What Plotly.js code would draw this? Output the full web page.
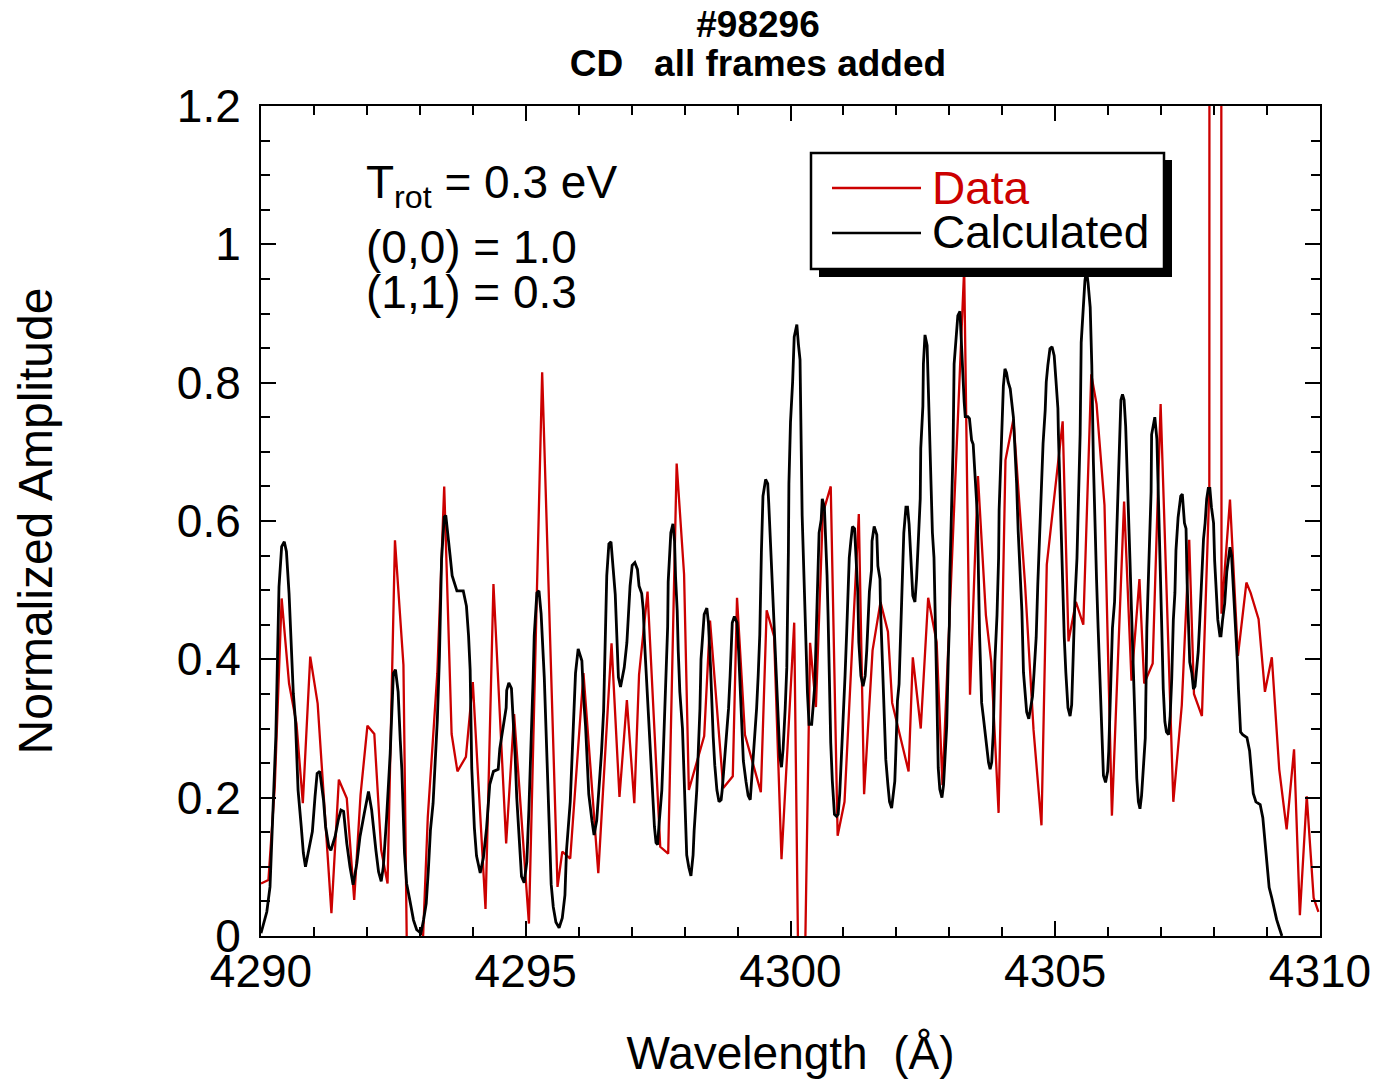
<!DOCTYPE html>
<html>
<head>
<meta charset="utf-8">
<script src="https://cdn.plot.ly/plotly-3.0.1.min.js"></script>
<style>html,body{margin:0;padding:0;background:#fff;}</style>
</head>
<body>
<div id="chart" style="width:1376px;height:1081px;"></div>
<script>
// ---------- DATA ----------
const titleLines = ['#98296', 'CD\u00a0\u00a0\u00a0all frames added'];
const xAxisTitle = 'Wavelength\u00a0\u00a0(\u00c5)';
const yAxisTitle = 'Normalized Amplitude';
const seriesNames = ['Data', 'Calculated'];
const fitLabels = ['T<sub>rot</sub> = 0.3 eV', '(0,0) = 1.0', '(1,1) = 0.3'];
const xTickValues = [4290, 4295, 4300, 4305, 4310];
const xTickLabels = ['4290', '4295', '4300', '4305', '4310'];
const yTickValues = [0, 0.2, 0.4, 0.6, 0.8, 1.0, 1.2];
const yTickLabels = ['0', '0.2', '0.4', '0.6', '0.8', '1', '1.2'];

// Measured spectrum (Data)
const dataWavelength = [
 4290.00,4290.14,4290.26,4290.39,4290.53,4290.67,4290.79,4290.93,4291.07,4291.33,
 4291.47,4291.62,4291.76,4291.88,4292.01,4292.14,4292.27,4292.39,4292.53,4292.69,
 4292.83,4293.00,4293.15,4293.33,4293.46,4293.60,4293.71,4293.87,4294.00,4294.24,
 4294.39,4294.63,4294.78,4295.06,4295.31,4295.60,4295.69,4295.84,4296.09,4296.37,
 4296.62,4296.77,4296.91,4297.05,4297.14,4297.30,4297.54,4297.69,4297.85,4297.99,
 4298.08,4298.37,4298.48,4298.73,4298.91,4298.99,4299.14,4299.44,4299.55,4299.69,
 4299.83,4300.07,4300.20,4300.37,4300.48,4300.61,4300.76,4300.89,4301.02,4301.29,
 4301.39,4301.55,4301.70,4301.84,4301.92,4302.23,4302.31,4302.46,4302.60,4302.76,
 4302.87,4303.28,4303.39,4303.54,4303.69,4303.79,4303.93,4304.06,4304.21,4304.43,
 4304.59,4304.74,4304.84,4305.14,4305.25,4305.39,4305.53,4305.68,4305.78,4305.93,
 4306.07,4306.30,4306.44,4306.59,4306.68,4306.84,4306.99,4307.23,4307.39,4307.53,
 4307.62,4307.77,4307.91,4308.00,4308.14,4308.30,4308.45,4308.61,4308.69,4308.84,
 4308.96,4309.09,4309.23,4309.37,4309.51,4309.62,4309.75,4309.88,4309.97
];
const dataAmplitude = [
 0.076,0.081,0.216,0.488,0.365,0.307,0.192,0.404,0.336,0.033,
 0.226,0.199,0.052,0.204,0.304,0.292,0.124,0.076,0.572,0.392,
 -0.5,-0.12,0.172,0.38,0.65,0.292,0.238,0.259,0.367,0.039,
 0.509,0.134,0.321,0.018,0.815,0.071,0.122,0.112,0.380,0.091,
 0.423,0.201,0.341,0.192,0.378,0.498,0.129,0.119,0.683,0.523,
 0.211,0.289,0.456,0.214,0.231,0.489,0.291,0.208,0.471,0.433,
 0.111,0.453,-0.39,0.424,0.331,0.611,0.650,0.145,0.194,0.610,
 0.205,0.413,0.483,0.440,0.337,0.238,0.403,0.300,0.489,0.425,
 0.218,0.965,0.349,0.665,0.464,0.397,0.178,0.688,0.747,0.508,
 0.298,0.160,0.537,0.744,0.426,0.483,0.450,0.812,0.769,0.623,
 0.174,0.628,0.369,0.516,0.365,0.394,0.769,0.194,0.334,0.573,
 0.350,0.318,0.647,30,0.466,0.631,0.405,0.511,0.496,0.458,
 0.353,0.403,0.241,0.154,0.270,0.030,0.202,0.055,0.035
];

// Calculated spectrum
const calcWavelength = [
 4290.00,4290.11,4290.17,4290.20,4290.25,4290.28,4290.34,4290.39,4290.44,4290.48,
 4290.53,4290.58,4290.61,4290.65,4290.67,4290.70,4290.76,4290.80,4290.84,4290.89,
 4290.97,4291.02,4291.06,4291.11,4291.18,4291.22,4291.28,4291.32,4291.40,4291.46,
 4291.51,4291.56,4291.62,4291.68,4291.74,4291.81,4291.87,4291.95,4292.03,4292.09,
 4292.14,4292.17,4292.22,4292.27,4292.31,4292.37,4292.44,4292.47,4292.50,4292.54,
 4292.59,4292.63,4292.66,4292.71,4292.75,4292.81,4292.88,4292.94,4293.02,4293.07,
 4293.12,4293.16,4293.20,4293.25,4293.29,4293.33,4293.37,4293.41,4293.46,
 4293.49,4293.57,4293.61,4293.70,4293.82,4293.88,4293.92,4293.95,4293.98,4294.03,
 4294.07,4294.14,4294.20,4294.26,4294.32,4294.39,4294.48,4294.51,4294.58,4294.63,
 4294.64,4294.68,4294.73,4294.76,4294.80,4294.83,4294.87,4294.92,4294.97,4295.02,
 4295.06,4295.10,4295.14,4295.16,4295.21,4295.25,4295.29,4295.35,4295.40,4295.44,
 4295.48,4295.52,4295.57,4295.63,4295.69,4295.74,4295.77,4295.84,4295.88,4295.92,
 4295.94,4295.99,4296.06,4296.09,4296.13,4296.17,4296.19,4296.25,4296.29,4296.34,
 4296.38,4296.43,4296.47,4296.50,4296.53,4296.57,4296.61,4296.65,4296.69,4296.72,
 4296.75,4296.79,
 4296.86,4296.91,4296.94,4296.97,4297.01,4297.06,4297.11,4297.14,4297.19,4297.22,
 4297.24,4297.27,4297.30,4297.33,4297.36,4297.40,4297.43,4297.46,4297.49,4297.52,
 4297.57,4297.60,4297.63,4297.66,4297.68,4297.69,4297.72,4297.74,4297.78,4297.81,
 4297.83,4297.86,4297.88,4297.91,4297.96,4297.99,4298.02,4298.04,4298.08,4298.12,
 4298.16,4298.18,4298.23,4298.26,4298.29,4298.31,4298.34,4298.37,4298.42,4298.45,
 4298.49,4298.51,4298.54,4298.57,4298.61,4298.65,4298.69,4298.71,4298.75,4298.80,
 4298.83,4298.86,4298.90,4298.94,4298.99,4299.02,4299.05,4299.08,4299.11,4299.16,
 4299.20,4299.24,4299.28,4299.33,4299.36,4299.39,4299.42,4299.45,4299.48,4299.53,
 4299.57,4299.59,4299.61,4299.64,4299.67,4299.71,4299.74,4299.77,4299.80,4299.83,
 4299.86,4299.90,4299.93,4299.96,4299.97,4300.00,4300.04,4300.07,4300.12,4300.15,
 4300.18,4300.22,4300.25,4300.27,4300.32,4300.35,4300.40,4300.43,4300.46,4300.49,
 4300.51,4300.54,4300.58,4300.60,4300.64,4300.66,4300.69,4300.71,4300.74,4300.76,
 4300.79,4300.83,4300.87,4300.90,4300.93,4300.97,4301.00,4301.03,4301.06,4301.08,
 4301.11,4301.14,4301.17,4301.21,4301.24,4301.27,4301.29,4301.33,4301.37,4301.41,
 4301.44,4301.47,4301.49,4301.53,4301.54,4301.58,4301.63,4301.65,4301.69,4301.70,
 4301.73,4301.75,4301.78,4301.80,4301.84,4301.87,4301.91,4301.94,4301.97,4301.99,
 4302.02,4302.05,4302.08,4302.10,4302.12,4302.14,4302.18,4302.21,4302.24,4302.27,
 4302.31,4302.35,4302.38,4302.41,4302.45,4302.46,4302.50,4302.51,4302.54,4302.58,
 4302.60,4302.63,4302.65,4302.68,4302.71,4302.73,4302.76,4302.79,4302.82,4302.86,
 4302.89,4302.92,4302.95,4302.98,4303.00,4303.01,4303.04,4303.07,4303.09,4303.12,
 4303.16,4303.20,4303.22,4303.24,4303.28,4303.30,4303.35,4303.38,4303.42,4303.45,
 4303.49,4303.53,4303.57,
 4303.61,4303.64,4303.67,4303.71,4303.74,4303.77,4303.80,4303.83,4303.86,4303.90,
 4303.93,4303.94,4303.97,4304.00,4304.02,4304.05,4304.08,4304.11,4304.15,4304.18,
 4304.21,4304.24,4304.27,4304.30,4304.33,4304.37,4304.40,4304.43,4304.46,4304.50,
 4304.54,4304.57,4304.60,4304.64,4304.67,4304.71,4304.74,4304.77,4304.81,4304.83,
 4304.86,4304.90,4304.94,4304.98,4305.01,4305.05,4305.06,4305.09,4305.12,4305.15,
 4305.17,4305.20,4305.24,4305.28,4305.31,4305.34,4305.37,4305.41,4305.44,4305.47,
 4305.49,4305.52,4305.56,4305.59,4305.62,4305.66,4305.69,4305.72,4305.75,4305.78,
 4305.81,4305.85,4305.88,4305.91,4305.95,4305.99,4306.01,4306.05,4306.08,4306.12,
 4306.14,4306.16,4306.19,4306.21,4306.24,4306.27,4306.30,4306.33,4306.35,4306.38,
 4306.41,4306.44,4306.48,4306.51,4306.54,4306.57,4306.60,4306.63,4306.66,4306.70,
 4306.73,4306.76,4306.78,4306.81,4306.82,4306.85,4306.88,4306.92,4306.95,4306.98,
 4307.01,4307.04,4307.07,4307.10,4307.14,4307.17,4307.20,4307.23,4307.26,4307.28,
 4307.32,4307.37,4307.40,4307.44,4307.47,4307.49,4307.51,4307.54,4307.58,4307.61,
 4307.64,4307.67,4307.70,4307.73,4307.77,4307.80,4307.83,4307.86,4307.89,4307.92,
 4307.95,4307.99,4308.01,4308.04,4308.07,4308.11,4308.13,4308.16,4308.20,4308.24,
 4308.27,4308.30,4308.33,4308.36,4308.39,4308.41,4308.44,4308.46,4308.48,4308.50,
 4308.54,4308.62,4308.67,4308.69,4308.71,4308.74,4308.79,4308.87,4308.92,4308.96,
 4308.99,4309.02,4309.04,4309.09,4309.13,4309.18,4309.23,4309.28
];
const calcAmplitude = [
 0.004,0.035,0.071,0.134,0.226,0.288,0.505,0.563,0.570,0.556,
 0.495,0.413,0.351,0.312,0.264,0.211,0.158,0.120,0.100,0.120,
 0.151,0.201,0.235,0.238,0.197,0.158,0.129,0.124,0.144,0.168,
 0.182,0.180,0.134,0.100,0.074,0.105,0.144,0.177,0.209,0.182,
 0.139,0.124,0.093,0.079,0.100,0.168,0.264,0.327,0.380,0.385,
 0.353,0.283,0.240,0.120,0.076,0.052,0.023,0.009,0.004,0.023,
 0.047,0.095,0.153,0.192,0.254,0.312,0.404,0.544,0.606,
 0.608,0.551,0.521,0.499,0.499,0.477,0.434,0.385,0.243,0.156,
 0.116,0.091,0.113,0.156,0.219,0.238,0.241,0.271,0.303,0.330,
 0.355,0.366,0.358,0.317,0.260,0.200,0.140,0.086,0.077,0.107,
 0.184,0.265,0.374,0.434,0.496,0.499,0.466,0.374,0.249,0.140,
 0.075,0.042,0.020,0.012,0.026,0.059,0.124,0.194,0.260,0.330,
 0.380,0.415,0.398,0.347,0.303,0.238,0.205,0.167,0.146,0.167,
 0.205,0.265,0.325,0.417,0.521,0.567,0.570,0.532,0.494,0.434,
 0.374,0.360,
 0.388,0.424,0.471,0.506,0.536,0.540,0.530,0.506,0.495,0.471,
 0.430,0.388,0.341,0.300,0.253,0.211,0.158,0.135,0.132,0.164,
 0.211,0.270,0.329,0.388,0.447,0.512,0.554,0.583,0.596,0.571,
 0.518,0.471,0.412,0.353,0.300,0.229,0.152,0.117,0.099,0.087,
 0.117,0.152,0.211,0.270,0.329,0.400,0.430,0.465,0.474,0.453,
 0.388,0.335,0.288,0.247,0.211,0.194,0.197,0.211,0.247,0.294,
 0.329,0.377,0.453,0.462,0.453,0.412,0.353,0.294,0.253,0.223,
 0.203,0.197,0.241,0.294,0.329,0.377,0.436,0.554,0.636,0.660,
 0.654,0.624,0.589,0.536,0.477,0.412,0.353,0.300,0.259,0.244,
 0.270,0.329,0.388,0.554,0.654,0.743,0.801,0.866,0.884,0.855,
 0.833,0.608,0.529,0.462,0.352,0.306,0.306,0.334,0.364,0.449,
 0.510,0.583,0.602,0.632,0.620,0.583,0.522,0.462,0.334,0.279,
 0.224,0.176,0.173,0.176,0.206,0.267,0.316,0.376,0.437,0.498,
 0.547,0.571,0.592,0.589,0.535,0.498,0.425,0.376,0.361,0.376,
 0.413,0.456,0.498,0.529,0.571,0.592,0.580,0.535,0.516,0.474,
 0.401,0.349,0.303,0.255,0.218,0.194,0.185,0.209,0.224,0.267,
 0.340,0.364,0.425,0.486,0.535,0.583,0.620,0.620,0.595,0.556,
 0.492,0.483,0.516,0.565,0.632,0.705,0.766,0.827,0.869,0.854,
 0.802,0.729,0.644,0.583,0.547,0.449,0.364,0.243,0.212,0.200,
 0.218,0.261,0.303,0.401,0.449,0.522,0.620,0.705,0.827,0.863,
 0.897,0.903,0.869,0.827,0.772,0.751,0.751,0.748,0.717,0.711,
 0.662,0.608,0.437,
 0.337,0.318,0.295,0.273,0.251,0.241,0.251,0.295,0.397,0.464,
 0.546,0.616,0.702,0.750,0.795,0.820,0.814,0.801,0.791,0.772,
 0.750,0.702,0.655,0.585,0.540,0.470,0.381,0.356,0.324,0.314,
 0.330,0.346,0.381,0.432,0.508,0.591,0.661,0.712,0.760,0.801,
 0.825,0.849,0.852,0.839,0.807,0.763,0.725,0.642,0.578,0.502,
 0.432,0.381,0.330,0.318,0.334,0.407,0.483,0.546,0.623,0.725,
 0.858,0.903,0.947,0.963,0.944,0.909,0.826,0.686,0.585,0.515,
 0.445,0.362,0.273,0.232,0.222,0.238,0.267,0.356,0.445,0.483,
 0.534,0.597,0.661,0.718,0.775,0.783,0.775,0.737,0.693,0.636,
 0.546,0.470,0.381,0.292,0.228,0.194,0.184,0.203,0.241,0.286,
 0.445,0.508,0.578,0.642,0.725,0.737,0.750,0.718,0.640,0.550,
 0.450,0.357,0.310,0.295,0.291,0.318,0.372,0.457,0.496,0.558,
 0.605,0.636,0.639,0.597,0.589,0.512,0.457,0.396,0.380,0.357,
 0.361,0.388,0.411,0.457,0.527,0.574,0.597,0.632,0.647,0.647,
 0.620,0.597,0.543,0.489,0.457,0.434,0.434,0.457,0.481,0.527,
 0.543,0.562,0.550,0.512,0.465,0.434,0.396,0.357,0.326,0.295,
 0.291,0.287,0.268,0.248,0.225,0.206,0.194,0.190,0.171,0.140,
 0.117,0.094,0.070,0.055,0.039,0.024,0.012,0.000
];

// ---------- STYLE / LAYOUT ----------
const W = 1376, H = 1081;
const M = {l: 261, r: 56, t: 106, b: 145};
const PW = W - M.l - M.r, PH = H - M.t - M.b;
const px = v => (v - M.l) / PW;          // pixel -> paper x
const py = v => (H - M.b - v) / PH;      // pixel -> paper y
const FONT = 'Liberation Sans, Arial, Helvetica, sans-serif';
const RED = '#cc0000';
const big = (s, size) => '<span style="font-size:' + size + 'px">' + s + '</span>';

const traces = [
  {x: dataWavelength, y: dataAmplitude, name: seriesNames[0], type: 'scatter', mode: 'lines',
   line: {color: RED, width: 2.3}},
  {x: calcWavelength, y: calcAmplitude, name: seriesNames[1], type: 'scatter', mode: 'lines',
   line: {color: '#000000', width: 2.8}}
];

const legendShapes = [
  {type: 'rect', xref: 'paper', yref: 'paper', layer: 'above',
   x0: px(819), x1: px(1172), y0: py(160), y1: py(277), fillcolor: '#000', line: {width: 0}},
  {type: 'rect', xref: 'paper', yref: 'paper', layer: 'above',
   x0: px(811), x1: px(1164), y0: py(153), y1: py(269), fillcolor: '#fff', line: {color: '#000', width: 2.5}},
  {type: 'line', xref: 'paper', yref: 'paper', layer: 'above',
   x0: px(832), x1: px(921), y0: py(188), y1: py(188), line: {color: RED, width: 2.3}},
  {type: 'line', xref: 'paper', yref: 'paper', layer: 'above',
   x0: px(832), x1: px(921), y0: py(233), y1: py(233), line: {color: '#000', width: 2.5}}
];

const annotations = [
  // legend labels (one text block, tight line spacing like the original)
  {text: '<span style="color:' + RED + '">' + big(seriesNames[0], 46) + '</span><br>' + big(seriesNames[1], 46),
   x: px(930), y: py(160), xref: 'paper', yref: 'paper', xanchor: 'left', yanchor: 'top', align: 'left',
   showarrow: false, font: {family: FONT, size: 34, color: '#000'}},
  // fit parameters
  {text: fitLabels[0], x: px(364), y: py(154), xref: 'paper', yref: 'paper', xanchor: 'left', yanchor: 'top',
   showarrow: false, font: {family: FONT, size: 46, color: '#000'}},
  {text: big(fitLabels[1], 46) + '<br>' + big(fitLabels[2], 46), x: px(364), y: py(219),
   xref: 'paper', yref: 'paper', xanchor: 'left', yanchor: 'top', align: 'left',
   showarrow: false, font: {family: FONT, size: 34.5, color: '#000'}}
];

const axisCommon = {
  ticks: 'inside', ticklen: 15, tickwidth: 2, tickcolor: '#000',
  showline: true, linewidth: 2, linecolor: '#000', mirror: 'ticks',
  showgrid: false, zeroline: false, tickmode: 'array'
};

const layout = {
  width: W, height: H,
  margin: {l: M.l, r: M.r, t: M.t, b: M.b, pad: 0},
  paper_bgcolor: '#fff', plot_bgcolor: '#fff',
  font: {family: FONT, color: '#000', size: 46},
  showlegend: false,
  title: {text: titleLines.map(s => big(s, 37)).join('<br>'), x: 758 / W, xref: 'container', xanchor: 'center',
          y: 1 - 37 / H, yref: 'container', yanchor: 'middle',
          font: {family: FONT, size: 30, weight: 'bold', color: '#000'}},
  xaxis: Object.assign({}, axisCommon, {
    range: [4290, 4310], tickvals: xTickValues, ticktext: xTickLabels,
    minor: {dtick: 1, tick0: 4290, ticks: 'inside', ticklen: 9, tickwidth: 2, tickcolor: '#000'},
    tickfont: {family: FONT, size: 46, color: '#000'}, ticklabelstandoff: -6,
    title: {text: '\u00a0\u00a0' + xAxisTitle, font: {family: FONT, size: 46, color: '#000'}, standoff: 41}
  }),
  yaxis: Object.assign({}, axisCommon, {
    range: [0, 1.2], tickvals: yTickValues, ticktext: yTickLabels,
    minor: {dtick: 0.05, tick0: 0, ticks: 'inside', ticklen: 9, tickwidth: 2, tickcolor: '#000'},
    tickfont: {family: FONT, size: 46, color: '#000'}, ticklabelstandoff: 9,
    title: {text: yAxisTitle, font: {family: FONT, size: 48, color: '#000'}, standoff: 109}
  }),
  shapes: legendShapes,
  annotations: annotations
};

Plotly.newPlot('chart', traces, layout, {staticPlot: true, displayModeBar: false});
</script>
</body>
</html>
